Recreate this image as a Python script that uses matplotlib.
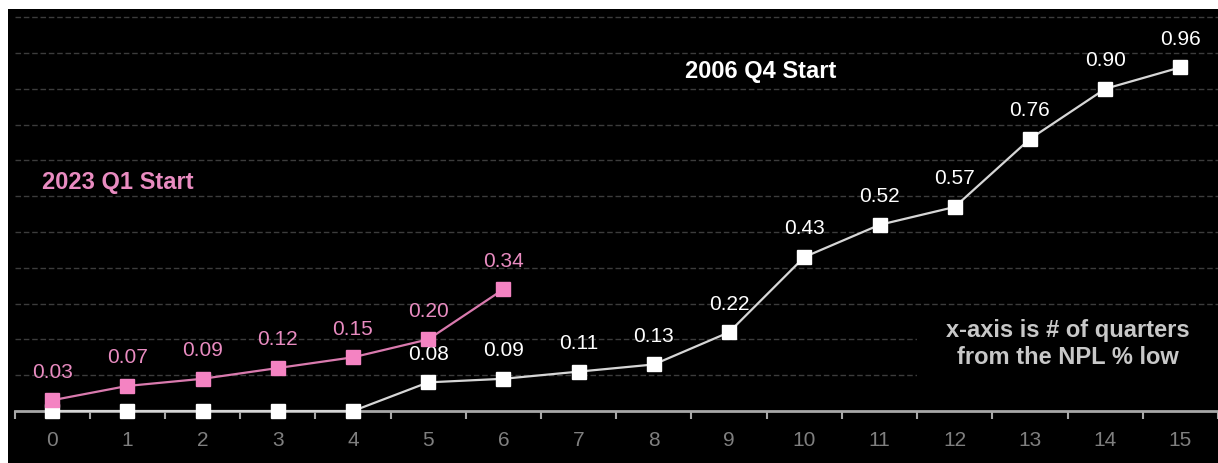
import matplotlib.pyplot as plt
from matplotlib.patches import Rectangle

plt.rcParams["font.family"] = ["Liberation Sans", "DejaVu Sans"]

# quarters from the NPL % low
quarters = list(range(16))
start_2006 = [0.00, 0.00, 0.00, 0.00, 0.00, 0.08, 0.09, 0.11, 0.13, 0.22,
              0.43, 0.52, 0.57, 0.76, 0.90, 0.96]
start_2023 = [0.03, 0.07, 0.09, 0.12, 0.15, 0.20, 0.34]

WHITE_LINE = "#d6d6d6"
PINK = "#f483c2"
PINK_LINE = "#d97aae"
PINK_TEXT = "#e98cc1"

fig = plt.figure(figsize=(12.18, 4.64), dpi=100)
fig.patch.set_facecolor("white")
bg = Rectangle((8 / 1218, 0), 1, 454 / 464, transform=fig.transFigure,
               facecolor="black", edgecolor="none")
bg.set_zorder(-10)
fig.add_artist(bg)

ax = fig.add_axes([14.5 / 1218, 52 / 464, 1 - 14.5 / 1218, 402 / 464])
ax.set_zorder(1)
ax.set_facecolor("black")
ax.set_xlim(-0.5, 15.5)
ax.set_ylim(0, 1.123)

for y in [0.1 * i for i in range(1, 12)]:
    ax.axhline(y, color="#3c3c3c", lw=1, ls=(0, (4, 2)), zorder=1)

# black box behind the note, hides the grid there
ax.add_patch(Rectangle((11.5, 0.05), 4.0, 0.22, facecolor="black",
                       edgecolor="none", zorder=2))

ax.plot(quarters, start_2006, color=WHITE_LINE, lw=1.6, marker="s", ms=10,
        mfc="white", mec="white", zorder=3, clip_on=False)
ax.plot(quarters[:len(start_2023)], start_2023, color=PINK_LINE, lw=1.6,
        marker="s", ms=10, mfc=PINK, mec=PINK, zorder=4, clip_on=False)

for x, v in zip(quarters, start_2006):
    if v > 0:
        ax.annotate(f"{v:.2f}", (x, v), xytext=(0, 21), textcoords="offset points",
                    ha="center", va="center", color="white", fontsize=15)
for x, v in zip(quarters, start_2023):
    ax.annotate(f"{v:.2f}", (x, v), xytext=(0, 21), textcoords="offset points",
                ha="center", va="center", color=PINK_TEXT, fontsize=15)

ax.text(0.023, 0.57, "2023 Q1 Start", transform=ax.transAxes, color=PINK_TEXT,
        fontsize=17, fontweight="bold", ha="left", va="center")
ax.text(0.557, 0.846, "2006 Q4 Start", transform=ax.transAxes, color="white",
        fontsize=17, fontweight="bold", ha="left", va="center")
ax.text(13.5, 0.19, "x-axis is # of quarters\nfrom the NPL % low", color="#c8c8c8",
        fontsize=17, fontweight="bold", ha="center", va="center",
        linespacing=1.2, zorder=5)

for side in ["top", "right", "left"]:
    ax.spines[side].set_visible(False)
ax.spines["bottom"].set_color("#a8a8a8")
ax.spines["bottom"].set_linewidth(2)
ax.spines["bottom"].set_zorder(2.5)

ax.set_yticks([])
ax.set_xticks([q - 0.5 for q in quarters] + [15.5])
ax.set_xticklabels([])
ax.set_xticks(quarters, minor=True)
ax.set_xticklabels([str(q) for q in quarters], minor=True)
ax.tick_params(axis="x", which="major", length=6, width=1.5, color="#a8a8a8")
ax.tick_params(axis="x", which="minor", length=0, pad=14, labelsize=15,
               labelcolor="#7f7f7f")

fig.savefig("out.png", dpi=100, facecolor=fig.get_facecolor())
